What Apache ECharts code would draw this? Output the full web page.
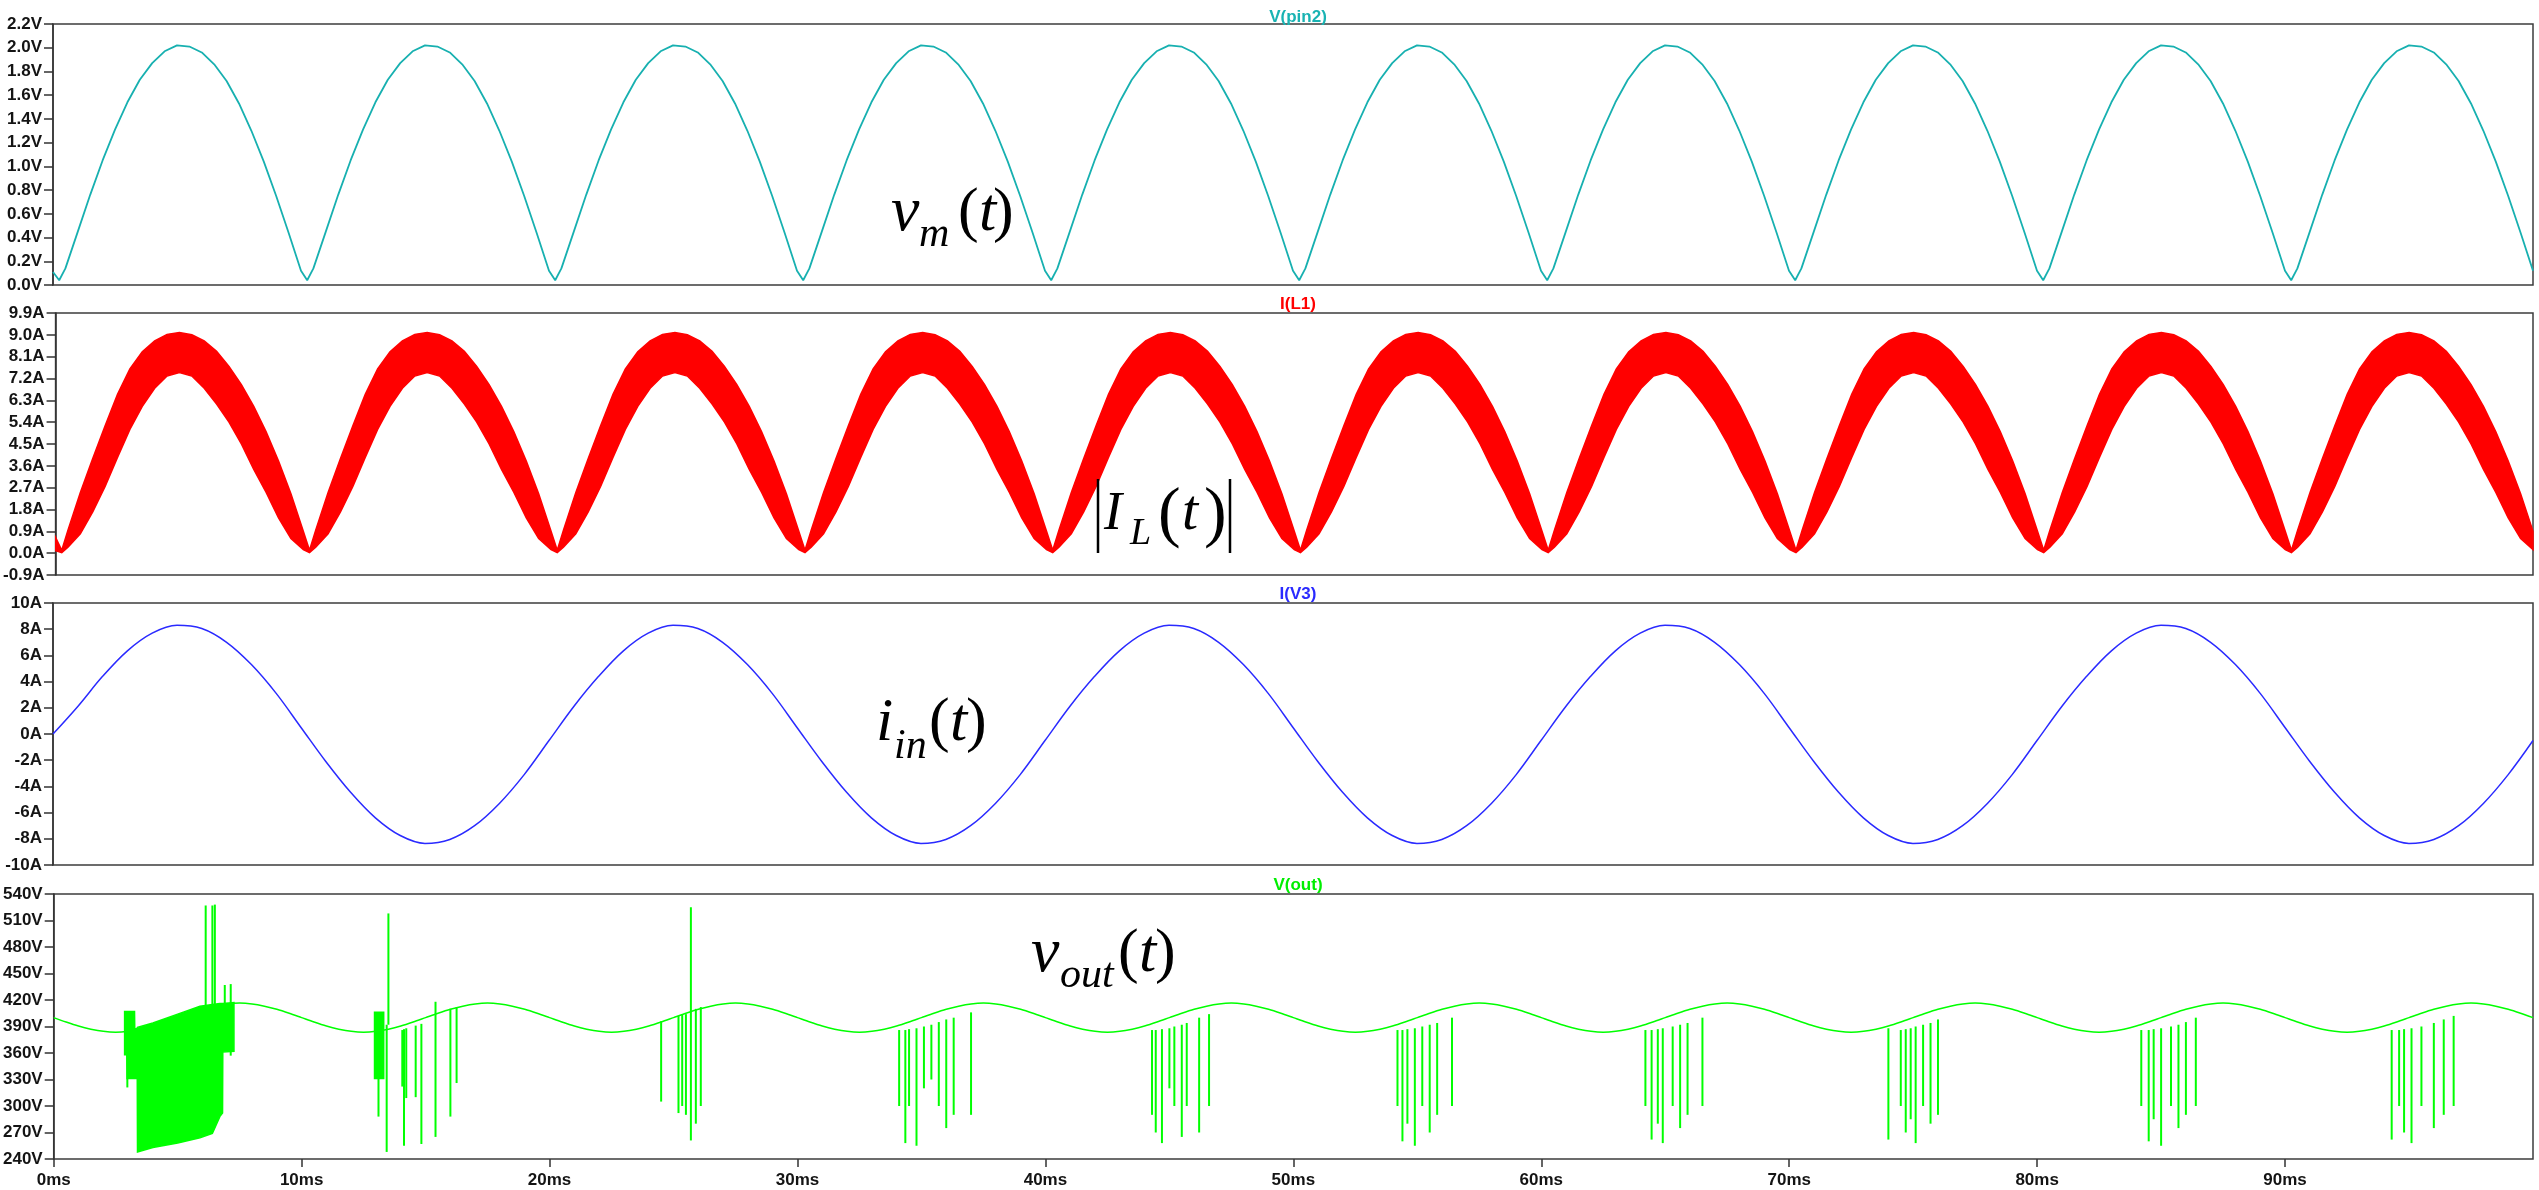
<!DOCTYPE html>
<html><head><meta charset="utf-8">
<script src="https://cdn.jsdelivr.net/npm/echarts/dist/echarts.min.js"></script>
<style>html,body{margin:0;padding:0;background:#fff}#c{width:2539px;height:1190px}</style>
</head><body><div id="c"></div>
<script>
// ================= DATA =================
// time axis (ms)
const timeMin = 0, timeMax = 100, timeStep = 10;
const titles = ['V(pin2)', 'I(L1)', 'I(V3)', 'V(out)'];

// V(pin2): rectified sine, one 10 ms half-cycle
const vmStart = [0, 0.11];
const vmTplT = [0.25, 0.5, 1, 1.5, 2, 2.5, 3, 3.5, 4, 4.5, 5, 5.5, 6, 6.5, 7, 7.5, 8, 8.5, 9, 9.5, 10];
const vmTplV = [0.04, 0.14, 0.45, 0.76, 1.05, 1.31, 1.54, 1.73, 1.87, 1.97, 2.02, 2.01, 1.96, 1.86, 1.72, 1.53, 1.30, 1.04, 0.75, 0.44, 0.12];

// I(L1): ripple band, upper & lower envelope for one 10 ms half-cycle
const ilStart = [0, 0.65, 0.1];
const ilTplT  = [0.25, 0.5, 1, 1.5, 2, 2.5, 3, 3.5, 4, 4.5, 5, 5.5, 6, 6.5, 7, 7.5, 8, 8.5, 9, 9.5, 10];
const ilTplHi = [0.12, 0.95, 2.5, 3.9, 5.25, 6.55, 7.6, 8.3, 8.75, 9.02, 9.1, 9.0, 8.75, 8.32, 7.7, 6.95, 6.05, 5.0, 3.8, 2.45, 0.9];
const ilTplLo = [0.02, 0.25, 0.8, 1.7, 2.75, 3.95, 5.1, 6.05, 6.8, 7.3, 7.45, 7.3, 6.8, 6.15, 5.4, 4.5, 3.45, 2.5, 1.45, 0.6, 0.15];

// I(V3): input current, one 20 ms period
const iinStart = [0, 0];
const iinTplT = [1, 2, 3, 4, 5, 6, 7, 8, 9, 10, 11, 12, 13, 14, 15, 16, 17, 18, 19, 20];
const iinTplV = [2.1, 4.4, 6.35, 7.7, 8.3, 8.05, 7.0, 5.3, 3.1, 0.5, -2.1, -4.45, -6.4, -7.75, -8.35, -8.05, -7.0, -5.3, -3.1, -0.5];

// V(out): 100 Hz ripple baseline, one 10 ms period
const voStart = [0, 400];
const voTplT = [0.5, 1, 1.5, 2, 2.5, 3, 3.5, 4, 4.5, 5, 5.5, 6, 6.5, 7, 7.5, 8, 8.5, 9, 9.5, 10];
const voTplV = [395, 390.5, 387, 384.5, 383.5, 384.5, 387, 390.5, 395, 400, 405, 409.5, 413, 415.5, 416.5, 415.5, 413, 409.5, 405, 400];

// V(out): dense switching blocks (time, low, high)
const blk1T  = [2.86, 2.95, 2.96, 3.26, 3.27, 3.37, 3.38, 4.0, 5.0, 5.9, 6.4, 6.7, 6.81, 6.82, 7.27];
const blk1Lo = [358, 358, 331, 331, 331, 331, 248, 253, 258, 264, 269, 288, 292, 361, 362];
const blk1Hi = [407, 407, 407, 407, 387, 388, 389, 394, 404, 413, 415, 416, 416, 416, 417];
const blk2T  = [12.94, 13.31];
const blk2Lo = [331, 331];
const blk2Hi = [406, 406];

// V(out): individual spikes (time ms, low V, high V)
const spikeT  = [2.97, 6.13, 6.40, 6.50, 6.90, 7.14, 13.10, 13.43, 13.50, 14.06, 14.13, 14.22, 14.60, 14.83, 15.40, 16.00, 16.25,
                 24.50, 25.20, 25.35, 25.50, 25.70, 25.90, 26.10,
                 34.10, 34.35, 34.50, 34.80, 35.10, 35.40, 35.70, 36.00, 36.30, 37.00,
                 44.30, 44.45, 44.70, 45.00, 45.20, 45.50, 45.70, 46.20, 46.60,
                 54.20, 54.40, 54.60, 54.90, 55.20, 55.50, 55.80, 56.40,
                 64.20, 64.45, 64.70, 64.90, 65.30, 65.60, 65.90, 66.50,
                 74.00, 74.50, 74.70, 74.90, 75.10, 75.40, 75.70, 76.00,
                 84.20, 84.50, 84.70, 85.00, 85.40, 85.70, 86.00, 86.40,
                 94.30, 94.60, 94.80, 95.10, 95.50, 96.00, 96.40, 96.80];
const spikeLo = [321, 410, 410, 410, 410, 357, 288, 248, 392, 322, 255, 309, 310, 257, 265, 288, 326,
                 305, 292, 300, 290, 261, 280, 300,
                 300, 258, 300, 255, 320, 330, 300, 275, 290, 290,
                 290, 270, 258, 320, 300, 265, 300, 270, 300,
                 300, 260, 280, 255, 300, 270, 290, 300,
                 300, 262, 280, 258, 300, 275, 290, 300,
                 262, 300, 270, 285, 258, 300, 280, 290,
                 300, 260, 285, 255, 300, 275, 290, 300,
                 262, 300, 270, 258, 300, 275, 290, 300];
const spikeHi = [407, 527, 527, 528, 437, 438, 406, 392, 518, 386, 387, 388, 391, 393, 418, 410, 412,
                 396, 402, 403, 404, 525, 410, 412,
                 386, 386, 387, 388, 390, 392, 395, 398, 400, 406,
                 386, 386, 387, 388, 390, 392, 394, 400, 404,
                 386, 386, 387, 388, 390, 392, 394, 400,
                 386, 386, 387, 388, 390, 392, 394, 400,
                 388, 386, 387, 388, 390, 392, 394, 398,
                 386, 386, 387, 388, 390, 392, 395, 400,
                 386, 386, 387, 388, 390, 394, 398, 402];

// ================= BUILD =================
function tile(start, tplT, tplVals, period, n) {
  const out = [[start[0], start[1]]];
  for (let k = 0; k < n; k++) for (let i = 0; i < tplT.length; i++) out.push([tplT[i] + k * period, tplVals[i]]);
  return out;
}
const vmData = tile(vmStart, vmTplT, vmTplV, 10, 10);
const ilHi = tile([ilStart[0], ilStart[1]], ilTplT, ilTplHi, 10, 10);
const ilLo = tile([ilStart[0], ilStart[2]], ilTplT, ilTplLo, 10, 10);
const iinData = tile(iinStart, iinTplT, iinTplV, 20, 5);
const voData = tile(voStart, voTplT, voTplV, 10, 10);

const FONT = 'Liberation Sans';
const FS = 17;
const AX = '#333';
const LBL = '#141414';
const grids = [
  {left: 53, right: 6, top: 24, height: 261},
  {left: 53, right: 6, top: 313, height: 262},
  {left: 53, right: 6, top: 603, height: 262},
  {left: 53, right: 6, top: 894, height: 265}
].map(g => Object.assign({show: true, borderColor: '#3c3c3c', borderWidth: 1.5, backgroundColor: '#fff'}, g));

const xAxes = [0, 1, 2, 3].map(i => ({
  type: 'value', gridIndex: i, min: timeMin, max: timeMax, interval: timeStep,
  axisLine: {show: false},
  axisTick: {show: i === 3, length: 8, lineStyle: {color: AX, width: 1.5}},
  splitLine: {show: false},
  axisLabel: {show: i === 3, showMaxLabel: false, margin: 13, fontFamily: FONT, fontWeight: 'bold', fontSize: FS, color: LBL,
              formatter: v => (v >= timeMax ? '' : v + 'ms')}
}));
function yAx(i, min, max, interval, fmt) {
  return {type: 'value', gridIndex: i, min, max, interval,
    axisLine: {show: true, lineStyle: {color: AX, width: 1.5}},
    axisTick: {show: true, length: 9, lineStyle: {color: AX, width: 1.5}},
    splitLine: {show: false},
    axisLabel: {margin: 11, fontFamily: FONT, fontWeight: 'bold', fontSize: FS, color: LBL, formatter: fmt}};
}
const yAxes = [
  yAx(0, 0, 2.2, 0.2, v => v.toFixed(1) + 'V'),
  yAx(1, -0.9, 9.9, 0.9, v => (Math.abs(v) < 1e-9 ? 0 : v).toFixed(1) + 'A'),
  yAx(2, -10, 10, 2, v => Math.round(v) + 'A'),
  yAx(3, 240, 540, 30, v => Math.round(v) + 'V')
];

function band(xi, hi, lo, color) {
  return {type: 'custom', xAxisIndex: xi, yAxisIndex: xi, clip: true, silent: true, z: 3,
    data: [[hi[0][0], hi[0][1]]],
    renderItem: function (params, api) {
      const pts = [];
      for (let i = 0; i < hi.length; i++) pts.push(api.coord(hi[i]));
      for (let i = lo.length - 1; i >= 0; i--) pts.push(api.coord(lo[i]));
      return {type: 'polygon', shape: {points: pts}, style: {fill: color, stroke: color, lineWidth: 1.5}};
    }};
}
function zipT(t, v) { return t.map((x, i) => [x, v[i]]); }

const GREEN = '#00ff00';
const series = [
  {type: 'line', xAxisIndex: 0, yAxisIndex: 0, data: vmData, showSymbol: false, symbol: 'none',
   lineStyle: {color: '#17b0b0', width: 1.8}, animation: false},
  band(1, ilHi, ilLo, '#ff0000'),
  {type: 'line', xAxisIndex: 2, yAxisIndex: 2, data: iinData, smooth: 0.35, showSymbol: false, symbol: 'none',
   lineStyle: {color: '#2a2aff', width: 1.5}, animation: false},
  {type: 'line', xAxisIndex: 3, yAxisIndex: 3, data: voData, smooth: 0.3, showSymbol: false, symbol: 'none',
   lineStyle: {color: GREEN, width: 1.5}, animation: false},
  band(3, zipT(blk1T, blk1Hi), zipT(blk1T, blk1Lo), GREEN),
  band(3, zipT(blk2T, blk2Hi), zipT(blk2T, blk2Lo), GREEN),
  {type: 'custom', xAxisIndex: 3, yAxisIndex: 3, clip: true, silent: true, z: 4,
   data: spikeT.map((t, i) => [t, spikeLo[i], spikeHi[i]]),
   encode: {x: 0, y: [1, 2]},
   renderItem: function (params, api) {
     const a = api.coord([api.value(0), api.value(1)]);
     const b = api.coord([api.value(0), api.value(2)]);
     return {type: 'line', shape: {x1: a[0], y1: a[1], x2: b[0], y2: b[1]}, style: {stroke: GREEN, lineWidth: 2}};
   }}
];

const titleColors = ['#19b3b3', '#ff0000', '#2a2aff', '#00ee00'];
const titleTops = [4, 291, 581, 872];
const title = titles.map((t, i) => ({text: t, left: 1293, top: titleTops[i], textAlign: 'center',
  textStyle: {fontFamily: FONT, fontWeight: 'bold', fontSize: FS, color: titleColors[i]}}));

// math annotations
const SERIF = 'Liberation Serif';
function txt(s, x, baseline, size, italic, extra) {
  return Object.assign({type: 'text', x: x, y: baseline - 0.3 * size, z: 100,
    style: {text: s, fontFamily: SERIF, fontSize: size, fontStyle: italic ? 'italic' : 'normal', fill: '#000',
            align: 'left', verticalAlign: 'middle'}}, extra || {});
}
const graphic = [
  txt('v', 891, 232, 64, true), txt('m', 919, 248, 42, true),
  txt('(', 958, 232, 62, false), txt('t', 979, 232, 62, true), txt(')', 993, 232, 62, false),
  {type: 'line', z: 100, shape: {x1: 1098, y1: 479, x2: 1098, y2: 553}, style: {stroke: '#000', lineWidth: 2.5}},
  {type: 'line', z: 100, shape: {x1: 1230, y1: 479, x2: 1230, y2: 553}, style: {stroke: '#000', lineWidth: 2.5}},
  txt('I', 1104, 531, 54, true), txt('L', 1130, 545, 38, true),
  txt('(', 1158, 537, 68, false), txt('t', 1182, 531, 58, true), txt(')', 1204, 537, 68, false),
  txt('i', 876, 742, 62, true), txt('in', 894, 760, 42, true),
  txt('(', 929, 742, 62, false), txt('t', 950, 742, 62, true), txt(')', 966, 742, 62, false),
  txt('v', 1031, 973, 64, true), txt('out', 1060, 989, 42, true),
  txt('(', 1118, 973, 62, false), txt('t', 1139, 973, 62, true), txt(')', 1155, 973, 62, false)
];

const chart = echarts.init(document.getElementById('c'), null, {renderer: 'canvas'});
chart.setOption({animation: false, backgroundColor: '#fff', title, grid: grids, xAxis: xAxes, yAxis: yAxes, series, graphic});
</script></body></html>
